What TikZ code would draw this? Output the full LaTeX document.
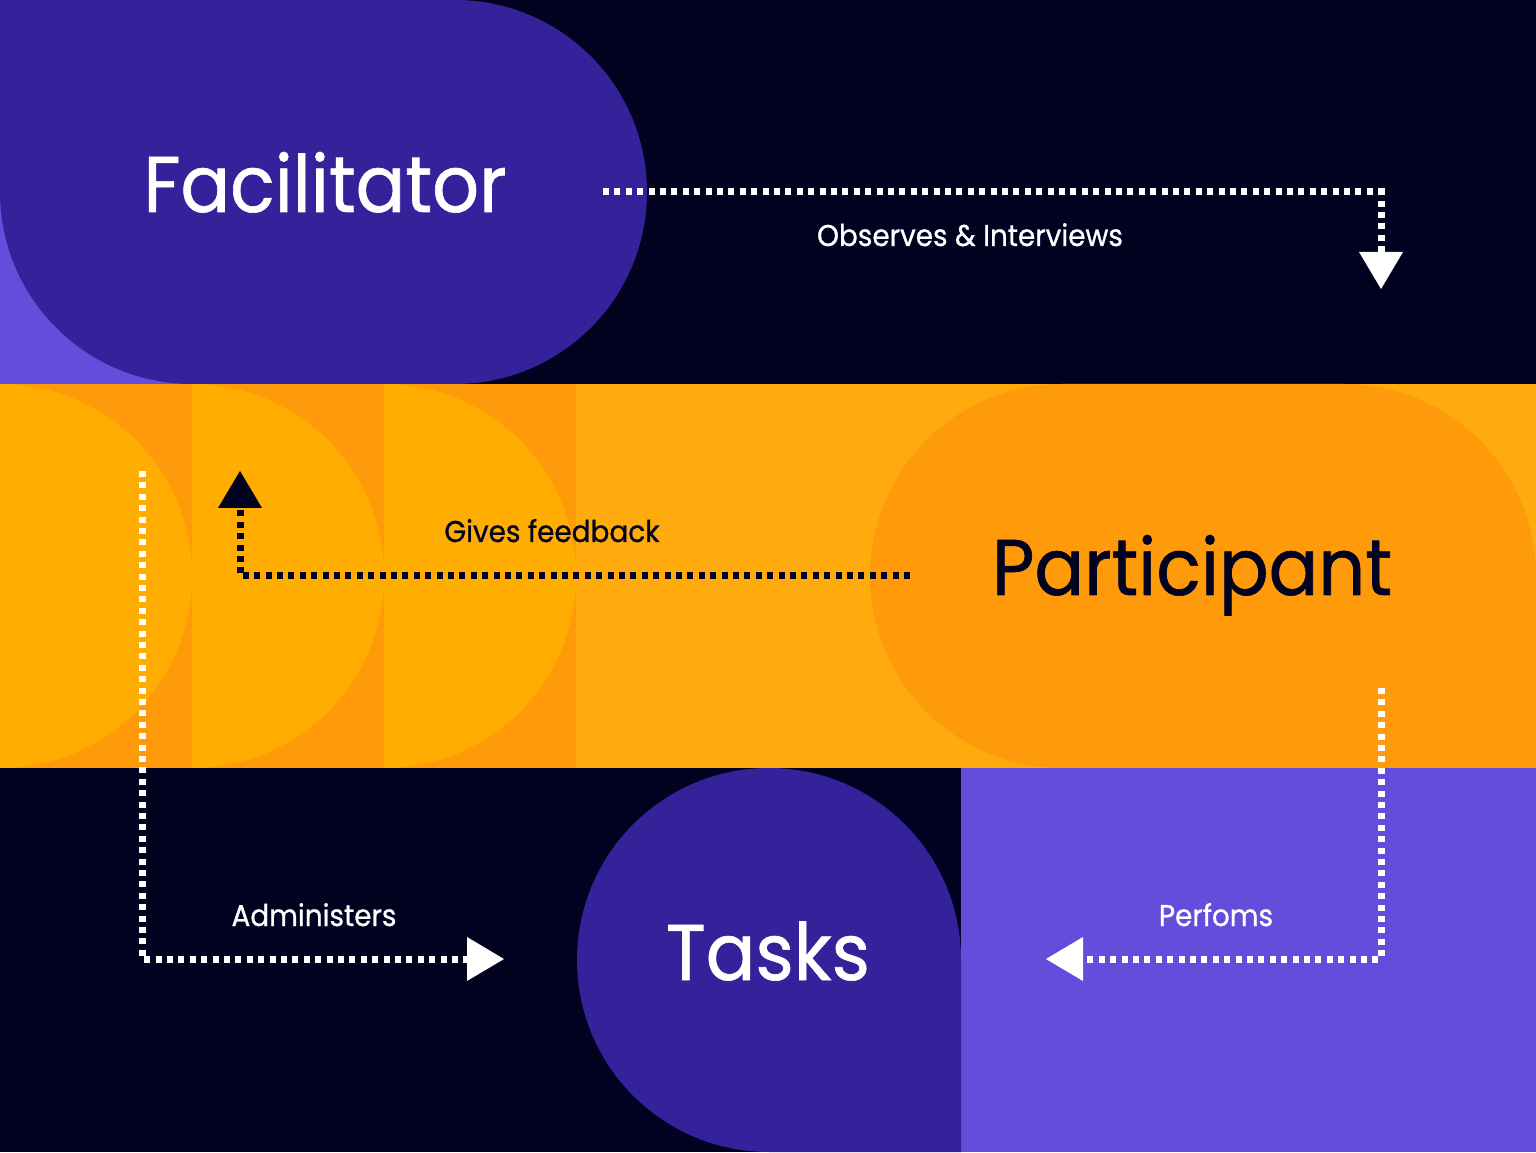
\documentclass[tikz,border=0pt]{standalone}
\usepackage{fontspec}
\setmainfont{Poppins}[FakeStretch=0.93,FakeBold=0.8]
\usetikzlibrary{arrows.meta}
\definecolor{navy}{HTML}{01021F}
\definecolor{indigo}{HTML}{35229B}
\definecolor{lilac}{HTML}{624EDB}
\definecolor{amber}{HTML}{FFAB0D}
\definecolor{amberlite}{HTML}{FFAD00}
\definecolor{tangerine}{HTML}{FF9B0A}
\begin{document}
\begin{tikzpicture}[x=1pt,y=1pt,
  dots/.style={line width=7pt,dash pattern=on 6pt off 5.4pt,
    -{Triangle[width=44pt,length=37pt,line width=0pt]}},
  lab/.style={font=\fontsize{30}{30}\selectfont,anchor=base,inner sep=0pt},
  big/.style={font=\fontsize{79}{79}\selectfont,anchor=base,inner sep=0pt}]
\useasboundingbox (0,0) rectangle (1536,1152);
% top band
\fill[navy] (0,768) rectangle (1536,1152);
\fill[lilac] (0,768) rectangle (192,960);
\fill[indigo] (0,1152) -- (455,1152) arc(90:-90:192) -- (192,768) arc(270:180:192) -- cycle;
% middle band
\fill[amber] (0,384) rectangle (1536,768);
\foreach \i in {0,192,384}{
  \fill[tangerine] (\i,384) rectangle ++(192,384);
  \fill[amberlite] (\i,768) arc(90:-90:192) -- cycle;}
\fill[tangerine] (1536,384) -- (1062,384) arc(270:90:192) -- (1344,768) arc(90:0:192) -- cycle;
% bottom band
\fill[navy] (0,0) rectangle (961,384);
\fill[lilac] (961,0) rectangle (1536,384);
\fill[indigo] (961,0) -- (769,0) arc(270:90:192) arc(90:0:192) -- cycle;
% roles
\node[big,white] (fac) at (325,940) {Facilitator};
\node[big,navy] (par) at (1192,557) {Participant};
\node[big,white] (tsk) at (768,172) {Tasks};
% labels
\node[lab,white] (obs) at (970,906) {Observes \& Interviews};
\node[lab,navy] (fdb) at (552,610) {Gives feedback};
\node[lab,white] (adm) at (314,226) {Administers};
\node[lab,white] (prf) at (1216,226) {Perfoms};
% connectors
\coordinate (o1) at (603,960); \coordinate (o2) at (1381,960); \coordinate (o3) at (1381,863);
\coordinate (g1) at (910,576); \coordinate (g2) at (240,576); \coordinate (g3) at (240,681);
\coordinate (a1) at (142,681); \coordinate (a2) at (142,193); \coordinate (a3) at (504,193);
\coordinate (p1) at (1381,464); \coordinate (p2) at (1381,193); \coordinate (p3) at (1046,193);
\draw[dots,white] (o1) -- (o2) -- (o3);
\draw[dots,navy] (g1) -- (g2) -- (g3);
\draw[dots,white] (a1) -- (a2) -- (a3);
\draw[dots,white] (p1) -- (p2) -- (p3);
\end{tikzpicture}
\end{document}
